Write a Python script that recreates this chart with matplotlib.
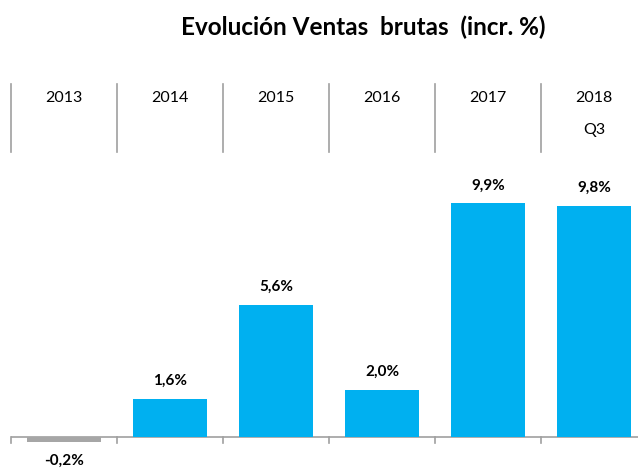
import matplotlib.pyplot as plt
import matplotlib.transforms as mtransforms

years = ['2013', '2014', '2015', '2016', '2017', '2018']
sub = ['', '', '', '', '', 'Q3']
vals = [-0.2, 1.6, 5.6, 2.0, 9.9, 9.8]
labels = ['-0,2%', '1,6%', '5,6%', '2,0%', '9,9%', '9,8%']

plt.rcParams['font.family'] = ['Lato', 'DejaVu Sans']

W, H = 638, 468
fig = plt.figure(figsize=(W / 100, H / 100), dpi=100)

# axes placed in pixels: x 11..647, y 160..468 (top..bottom), baseline at 437
base_px = 437
ppu = 23.6
top_px = 160
ax = fig.add_axes([11 / W, 0, 636 / W, (H - top_px) / H])
ax.set_xlim(-0.5, 5.5)
ax.set_ylim(-(H - base_px) / ppu, (base_px - top_px) / ppu)
ax.axis('off')

blue = '#00B0F0'
grey = '#A6A6A6'
cols = [grey if v < 0 else blue for v in vals]
x = range(len(vals))
ax.bar(x, vals, width=0.70, color=cols, zorder=2)

ax.axhline(0, color='#A0A0A0', lw=1.2, zorder=1)
for i in range(len(vals) + 1):
    ax.plot([i - 0.5, i - 0.5], [0, -6 / ppu], color='#A0A0A0', lw=1.2, clip_on=False)

for i, (v, t) in enumerate(zip(vals, labels)):
    if v >= 0:
        ax.text(i, v + 18 / ppu, t, ha='center', va='center', fontsize=11, fontweight='bold')
    else:
        ax.text(i, v - 19 / ppu, t, ha='center', va='center', fontsize=11, fontweight='bold')

# header row
tr = mtransforms.blended_transform_factory(ax.transData, fig.transFigure)
for i in range(len(years)):
    ax.plot([i - 0.5, i - 0.5], [1 - 84 / H, 1 - 152 / H], color='#A0A0A0', lw=1.2,
            transform=tr, clip_on=False)
    ax.text(i, 1 - 98 / H, years[i], ha='center', va='center', fontsize=11.5, transform=tr)
    if sub[i]:
        ax.text(i, 1 - 130 / H, sub[i], ha='center', va='center', fontsize=11.5, transform=tr)

fig.text(363 / W, 1 - 27 / H, 'Evolución Ventas  brutas  (incr. %)', ha='center', va='center',
         fontsize=17.5, fontweight='bold')

fig.savefig('out.png', dpi=100)
